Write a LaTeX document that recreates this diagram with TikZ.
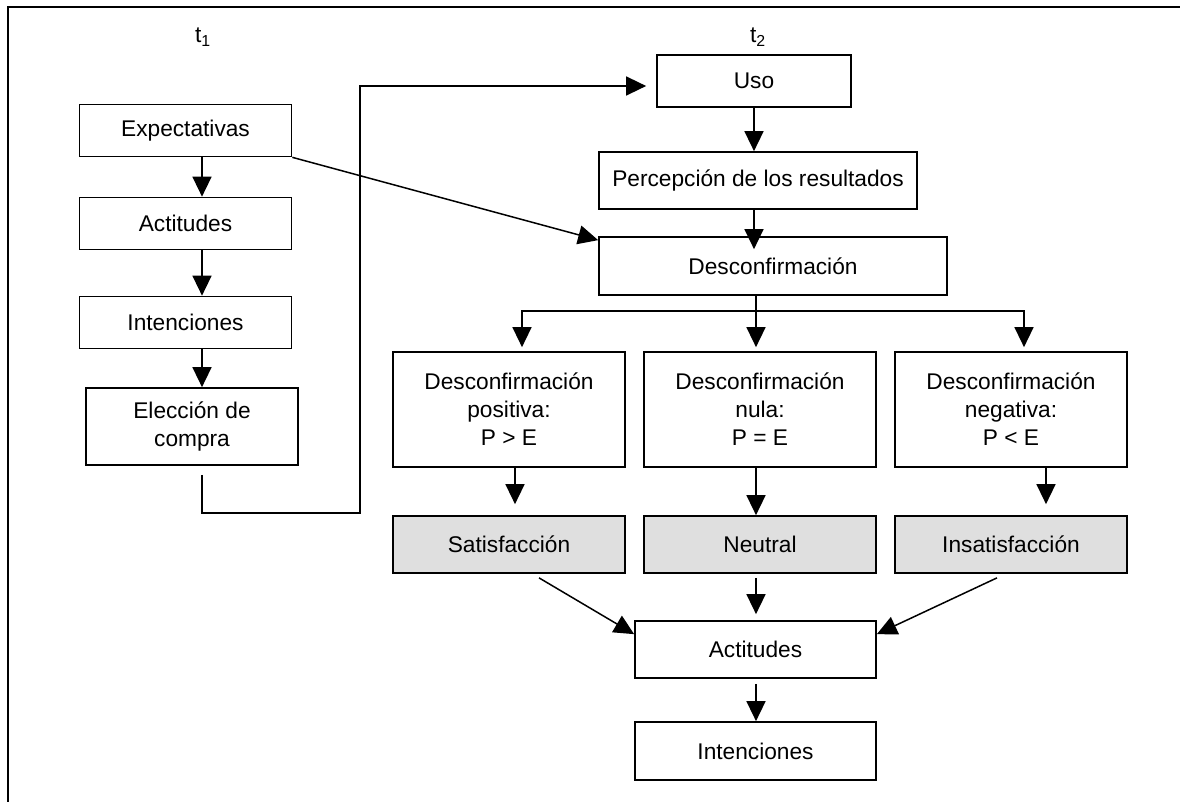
\documentclass[tikz,border=0pt]{standalone}
\usepackage{fontspec}
\setmainfont{Liberation Sans}
\usetikzlibrary{arrows.meta}
\tikzstyle{px}=[x=1pt,y=-1pt,font=\fontsize{22.7}{28}\selectfont]
\tikzstyle{box}=[draw,line width=1.7pt,inner sep=0pt,align=center,minimum height=52pt]
\tikzstyle{lbox}=[box,minimum width=212pt]
\tikzstyle{dbox}=[box,minimum width=232pt,minimum height=115pt]
\tikzstyle{gbox}=[box,minimum width=232pt,minimum height=57pt,fill=gray!25]
\tikzstyle{ln}=[line width=1.5pt]
\tikzstyle{arr}=[ln,-{Triangle[width=19pt,length=20pt]}]

\begin{document}
\begin{tikzpicture}[px]
\useasboundingbox (0,0) rectangle (1180,802);
\draw[line width=1.7pt] (8,802) -- (8,7) -- (1180,7);
\node (t1) at (203,37) {t\textsubscript{1}};
\node (t2) at (758,37) {t\textsubscript{2}};

\foreach \n/\y/\t in {exp/130.5/Expectativas, act1/223.5/Actitudes, int1/322.5/Intenciones}
    {\node[lbox] (\n) at (185.5,\y) {\t};}
\node[lbox,minimum height=77pt] (ele) at (192,426.5) {Elección de\\compra};

\node[box,minimum width=194pt] (uso) at (754,81) {Uso};
\node[box,minimum width=318pt,minimum height=57pt] (per) at (758,180.5) {Percepción de los resultados};
\node[box,minimum width=348pt,minimum height=58pt] (des) at (773,266) {Desconfirmación};
\foreach \n/\x/\t in {pos/509/{positiva:\\P > E}, nul/760/{nula:\\P = E}, neg/1011/{negativa:\\P < E}}
    {\node[dbox] (\n) at (\x,409.5) {Desconfirmación\\\t};}
\foreach \n/\x/\t in {sat/509/Satisfacción, neu/760/Neutral, ins/1011/Insatisfacción}
    {\node[gbox] (\n) at (\x,544.5) {\t};}
\node[box,minimum width=241pt,minimum height=57pt] (act2) at (755.5,649.5) {Actitudes};
\node[box,minimum width=241pt,minimum height=58pt] (int2) at (755.5,751) {Intenciones};

\coordinate (lc) at (202,0);
\coordinate (loop) at (360,513);
\coordinate (c1) at (522,311);
\coordinate (c2) at (756,311);
\coordinate (c3) at (1024,311);

\foreach \a/\b in {exp/act1, act1/int1, int1/ele}
    {\draw[arr] (\a.south -| lc) -- (\b.north -| lc);}
\draw[arr,shorten >=10pt] ([yshift=-9pt]ele.south -| lc) |- (loop) |- ([yshift=-5pt]uso.west);
\draw[arr] (exp.south east) -- ([yshift=-4pt]des.north west);
\draw[arr] (uso.south) -- (per.north -| uso.south);
\draw[arr] (per.south -| uso.south) -- ([yshift=-13pt]des.north -| uso.south);

\draw[arr] (des.south -| c2) -- ([yshift=4pt]nul.north -| c2);
\draw[arr] (c2) -| ([yshift=4pt]pos.north -| c1);
\draw[arr] (c2) -| ([yshift=4pt]neg.north -| c3);

\draw[arr] ([xshift=6pt]pos.south) -- ([xshift=6pt,yshift=11pt]sat.north);
\draw[arr] (nul.south -| c2) -- (neu.north -| c2);
\draw[arr] ([xshift=35pt]neg.south) -- ([xshift=35pt,yshift=11pt]ins.north);

\draw[arr] ([xshift=30pt,yshift=-4pt]sat.south) -- ([yshift=-14pt]act2.north west);
\draw[arr] ([yshift=-4pt]neu.south -| c2) -- ([yshift=6pt]act2.north -| c2);
\draw[arr] ([xshift=-14pt,yshift=-4pt]ins.south) -- ([yshift=-14pt]act2.north east);
\draw[arr] ([yshift=-5pt]act2.south -| c2) -- (int2.north -| c2);
\end{tikzpicture}
\end{document}
